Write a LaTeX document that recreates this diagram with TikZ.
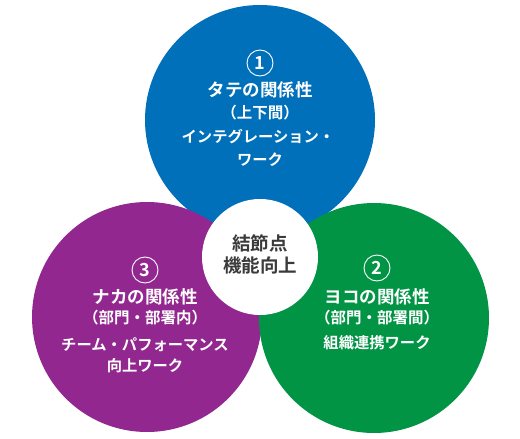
\documentclass[tikz,border=0pt]{standalone}
\usepackage{fontspec}
\setmainfont{Noto Sans CJK JP}[BoldFont={Noto Sans CJK JP Bold}]
\usepackage{xcolor}
\usetikzlibrary{positioning}

\definecolor{tateblue}{RGB}{0,112,186}
\definecolor{nakapurple}{RGB}{146,39,143}
\definecolor{yokogreen}{RGB}{0,148,68}
\definecolor{coregray}{RGB}{58,58,58}

\begin{document}
\begin{tikzpicture}[x=1pt,y=-1pt,
  field/.style={circle,inner sep=0pt,minimum size=230pt},
  core/.style={circle,fill=white,inner sep=0pt,minimum size=116pt},
  num/.style={circle,draw=white,line width=0.9pt,inner sep=0pt,minimum size=26pt,text=white,font=\bfseries\fontsize{18}{18}\selectfont},
  title/.style={text=white,inner sep=0pt,font=\bfseries\fontsize{17.5}{20}\selectfont},
  scope/.style={text=white,inner sep=0pt,font=\bfseries\fontsize{15.5}{18}\selectfont},
  work/.style={text=white,inner sep=0pt,font=\bfseries\fontsize{15.3}{18}\selectfont},
  coretext/.style={text=coregray,inner sep=0pt,font=\bfseries\fontsize{18.5}{20}\selectfont}
]
\useasboundingbox (0,0) rectangle (520,439);
% three circles
\node[field,fill=tateblue] (tate) at (260,120) {};
\node[field,fill=nakapurple] (naka) at (147,317) {};
\node[field,fill=yokogreen] (yoko) at (374,318) {};
\node[core] (core) at (260,257) {};
% 1 top
\node[num] (n1) at (260,63) {1};
\node[title] (t1) at (260,90) {タテの関係性};
\node[scope] (s1) at (260,113) {（上下間）};
\node[work] (w1a) at (258,137) {インテグレーション・};
\node[work] (w1b) at (260,160) {ワーク};
% 3 left
\node[num] (n3) at (145,270) {3};
\node[title] (t3) at (145,297) {ナカの関係性};
\node[scope] (s3) at (145,318) {（部門・部署内）};
\node[work] (w3a) at (145,345) {チーム・パフォーマンス};
\node[work] (w3b) at (145,366) {向上ワーク};
% 2 right
\node[num] (n2) at (377,268) {2};
\node[title] (t2) at (377,297) {ヨコの関係性};
\node[scope] (s2) at (377,318) {（部門・部署間）};
\node[work] (w2) at (377,343) {組織連携ワーク};
% centre
\node[coretext] (c1) at (260,243) {結節点};
\node[coretext] (c2) at (260,265) {機能向上};
\end{tikzpicture}
\end{document}
